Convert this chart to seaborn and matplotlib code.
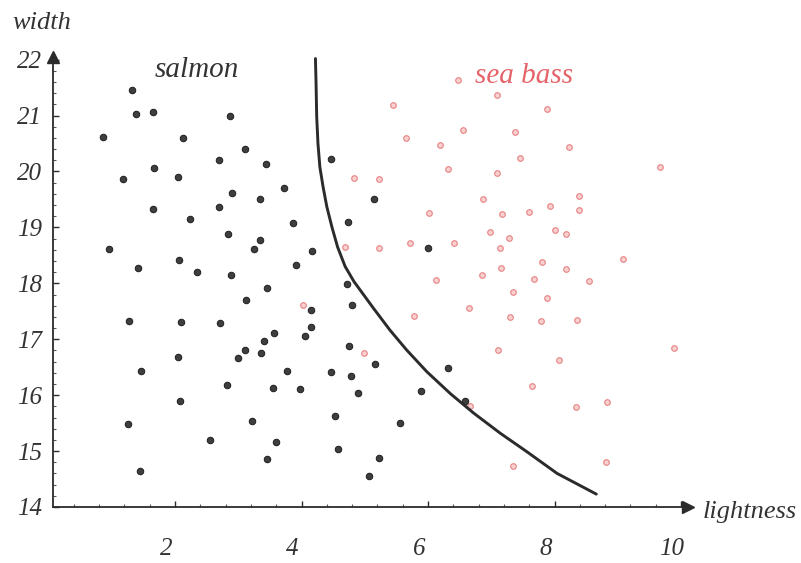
import numpy as np
import pandas as pd
import matplotlib
matplotlib.use("Agg")
import matplotlib.pyplot as plt
import matplotlib.transforms as mtransforms
from matplotlib.ticker import MultipleLocator
import seaborn as sns

# salmon samples (lightness, width)
salmon_lightness = [1.32, 1.39, 1.65, 2.87, 0.86, 2.13, 3.11, 2.70, 3.44, 1.67,
                    1.18, 2.04, 3.72, 2.90, 3.34, 1.66, 2.69, 2.24, 3.87, 2.84,
                    3.34, 3.25, 4.16, 0.96, 2.07, 3.91, 1.41, 2.35, 2.88, 3.45,
                    3.12, 4.15, 1.27, 2.10, 2.71, 4.15, 3.57, 4.06, 3.40, 3.11,
                    3.36, 2.04, 2.99, 1.47, 3.77, 2.82, 3.55, 3.97, 2.08, 3.22,
                    1.25, 2.56, 3.59, 3.46, 1.45, 4.46, 5.15, 4.74, 6.00, 4.72,
                    4.80, 4.75, 5.16, 4.46, 4.79, 6.31, 4.90, 5.89, 6.59, 4.53,
                    5.55, 4.57, 5.22, 5.06]
salmon_width = [21.45, 21.03, 21.07, 20.99, 20.62, 20.59, 20.41, 20.21, 20.13, 20.07,
                19.87, 19.90, 19.71, 19.62, 19.50, 19.33, 19.36, 19.15, 19.07, 18.88,
                18.77, 18.61, 18.58, 18.61, 18.42, 18.33, 18.28, 18.21, 18.14, 17.92,
                17.71, 17.53, 17.33, 17.31, 17.29, 17.22, 17.12, 17.05, 16.97, 16.81,
                16.76, 16.68, 16.66, 16.43, 16.43, 16.19, 16.12, 16.11, 15.89, 15.54,
                15.49, 15.19, 15.17, 14.85, 14.64, 20.22, 19.51, 19.10, 18.64, 17.99,
                17.62, 16.88, 16.56, 16.42, 16.35, 16.48, 16.04, 16.07, 15.90, 15.63,
                15.50, 15.04, 14.87, 14.56]

# sea bass samples (lightness, width)
seabass_lightness = [6.48, 5.45, 6.55, 5.65, 6.19, 6.31, 4.83, 5.23, 7.09, 7.09,
                     6.87, 6.01, 6.98, 4.68, 5.22, 5.72, 6.41, 6.85, 6.13, 4.03,
                     6.64, 5.78, 4.99, 7.11, 6.66, 7.88, 7.38, 8.23, 7.46, 9.67,
                     8.39, 7.93, 7.17, 7.60, 8.38, 7.28, 8.01, 8.18, 7.14, 9.08,
                     7.80, 7.15, 8.18, 7.68, 8.55, 7.34, 7.88, 7.30, 7.78, 8.36,
                     9.88, 8.07, 7.65, 8.34, 8.83, 7.34, 8.82]
seabass_width = [21.63, 21.19, 20.74, 20.59, 20.47, 20.04, 19.88, 19.86, 19.97, 21.36,
                 19.50, 19.26, 18.92, 18.65, 18.64, 18.73, 18.72, 18.14, 18.06, 17.62,
                 17.56, 17.42, 16.76, 16.81, 15.81, 21.12, 20.71, 20.43, 20.24, 20.08,
                 19.57, 19.38, 19.24, 19.28, 19.31, 18.81, 18.95, 18.89, 18.64, 18.44,
                 18.38, 18.28, 18.26, 18.08, 18.05, 17.85, 17.73, 17.39, 17.32, 17.35,
                 16.84, 16.62, 16.16, 15.78, 15.87, 14.74, 14.81]

# decision boundary
boundary_lightness = [4.22, 4.23, 4.24, 4.26, 4.29, 4.34, 4.40, 4.48, 4.57, 4.69,
                      4.83, 5.14, 5.40, 5.66, 5.98, 6.35, 6.72, 7.14, 7.56,
                      8.04, 8.66]
boundary_width = [22.02, 21.57, 20.98, 20.50, 20.08, 19.73, 19.37, 19.01, 18.65, 18.30,
                  18.03, 17.55, 17.16, 16.81, 16.42, 16.03, 15.68, 15.32, 14.99,
                  14.60, 14.23]

x_ticks = [2, 4, 6, 8, 10]
y_ticks = [14, 15, 16, 17, 18, 19, 20, 21, 22]

salmon = pd.DataFrame({"lightness": salmon_lightness, "width": salmon_width})
seabass = pd.DataFrame({"lightness": seabass_lightness, "width": seabass_width})
boundary = pd.DataFrame({"lightness": boundary_lightness, "width": boundary_width})

sns.set_theme(style="white")
plt.rcParams['font.family'] = ['Liberation Serif', 'DejaVu Serif']

fig = plt.figure(figsize=(8.01, 5.63), dpi=100)
ax = fig.add_axes([0.0665, 0.0995, 0.7925, 0.7995])

sns.scatterplot(ax=ax, data=seabass, x="lightness", y="width", s=16,
                color="#f8d2d2", edgecolor="#ea8a8a", linewidth=0.9, zorder=3)
sns.scatterplot(ax=ax, data=salmon, x="lightness", y="width", s=22,
                color="#3e3e3e", edgecolor="#1e1e1e", linewidth=0.7, zorder=4)
sns.lineplot(ax=ax, data=boundary, x="lightness", y="width", sort=False,
             color="#2b2b2b", linewidth=2.1, zorder=5)

ax.set_xlim(0.076, 10.11)
ax.set_ylim(14, 22.05)
ax.set_xlabel("")
ax.set_ylabel("")

for s in ["top", "right"]:
    ax.spines[s].set_visible(False)
for s in ["left", "bottom"]:
    ax.spines[s].set_color("#2b2b2b")
    ax.spines[s].set_linewidth(1.3)

# axis arrows
ax.plot(1, 0, ">", color="#2b2b2b", markersize=8, transform=ax.transAxes, clip_on=False)
ax.plot(0, 1, "^", color="#2b2b2b", markersize=8, transform=ax.transAxes, clip_on=False)

ax.set_xticks(x_ticks)
ax.set_yticks(y_ticks)
ax.xaxis.set_minor_locator(MultipleLocator(0.4))
ax.yaxis.set_minor_locator(MultipleLocator(0.2))
ax.tick_params(axis="both", which="major", direction="in", length=4, width=1,
               color="#2b2b2b", labelsize=18, labelcolor="#333333")
ax.tick_params(axis="both", which="minor", direction="in", length=2.5, width=0.8,
               color="#555555")
ax.tick_params(axis="x", which="major", pad=22, bottom=True)
ax.tick_params(axis="y", which="major", pad=8, left=True)
ax.tick_params(axis="both", which="minor", bottom=True, left=True)

shift = mtransforms.ScaledTranslation(-9 / 100, 0, fig.dpi_scale_trans)
for lab in ax.get_xticklabels():
    lab.set_fontstyle("italic")
    lab.set_transform(lab.get_transform() + shift)
for lab in ax.get_yticklabels():
    lab.set_fontstyle("italic")

ax.text(1.684, 21.687, "salmon", fontsize=21, fontstyle="italic",
        color="#333333", ha="left", va="baseline")
ax.text(6.743, 21.58, "sea bass", fontsize=21, fontstyle="italic",
        color="#e5646a", ha="left", va="baseline")

fig.text(12 / 801, 1 - 23 / 563, "width", fontsize=19, fontstyle="italic",
         color="#333333", ha="left", va="center")
fig.text(703 / 801, 1 - 512 / 563, "lightness", fontsize=19, fontstyle="italic",
         color="#333333", ha="left", va="center")

fig.savefig("out.png", dpi=100)
